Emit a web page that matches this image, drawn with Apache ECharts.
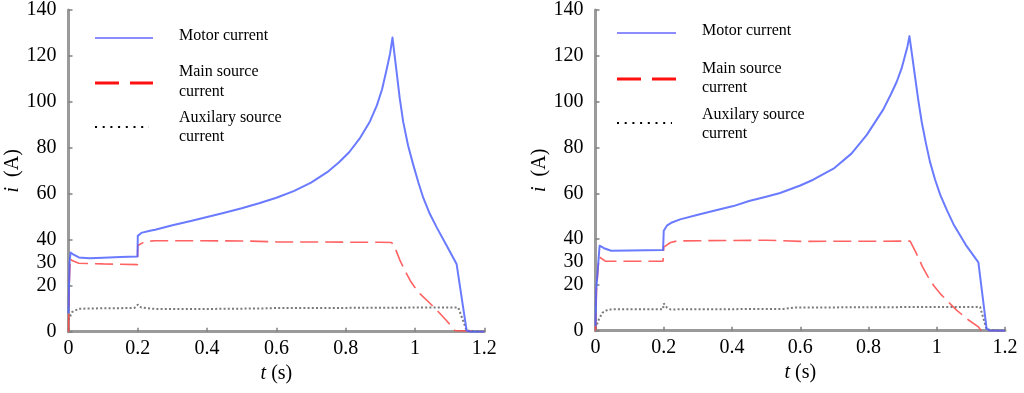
<!DOCTYPE html>
<html>
<head>
<meta charset="utf-8">
<script src="https://cdn.jsdelivr.net/npm/echarts@6/dist/echarts.min.js"></script>
<style>html,body{margin:0;padding:0;background:#fff}#c{width:1024px;height:393px}</style>
</head>
<body>
<div id="c"></div>
<script>
// ---- Data (time in s, current in A) ----
const leftMotorT = [0,0.003,0.006,0.012,0.03,0.06,0.1,0.15,0.199,0.2,0.21,0.235,0.25,0.3,0.35,0.4,0.45,0.5,0.55,0.6,0.65,0.7,0.75,0.78,0.81,0.84,0.87,0.89,0.905,0.918,0.928,0.935,0.947,0.956,0.966,0.98,0.995,1.01,1.024,1.043,1.063,1.09,1.12,1.149,1.16,1.2];
const leftMotorI = [8,30,34.5,33.8,32.3,32.0,32.2,32.5,32.7,41.7,43.0,43.9,44.4,46.3,48.1,49.9,51.8,53.7,55.9,58.3,61.2,64.9,69.8,73.6,78.1,84.0,91.5,98.5,105.5,114.0,121.0,128.0,113.0,101.5,91.3,81.0,72.6,64.8,58.2,51.2,45.3,37.8,29.5,0.5,0,0];
const leftMainT = [0,0.002,0.005,0.01,0.03,0.1,0.199,0.2,0.22,0.25,0.5,0.6,0.9,0.933,0.945,0.957,0.972,0.986,1.0,1.014,1.04,1.063,1.09,1.115,1.12,1.2];
const leftMainI = [0,20,32,31,29.8,29.5,29.2,37.5,39.2,39.6,39.5,39.1,38.9,38.8,35.5,30.9,26.2,22.3,19.2,16.6,12.8,9.4,5.0,0.5,0,0];
const leftAuxT = [0,0.01,0.03,0.1,0.19,0.2,0.21,0.25,0.4,0.55,0.6,0.9,1.0,1.125,1.149,1.2];
const leftAuxI = [5,8.5,10,10.2,10.3,11.8,10.5,9.9,9.9,10.1,10.3,10.4,10.5,10.5,0.5,0];

const rightMotorT = [0,0.002,0.012,0.025,0.046,0.1,0.198,0.2,0.21,0.222,0.248,0.3,0.35,0.404,0.45,0.5,0.541,0.6,0.638,0.7,0.75,0.795,0.843,0.865,0.883,0.897,0.907,0.914,0.92,0.928,0.936,0.946,0.956,0.968,0.98,0.995,1.01,1.03,1.049,1.085,1.122,1.146,1.155,1.2];
const rightMotorI = [2,17.6,37.1,36,34.9,35,35.2,43.6,46,47.1,48.6,50.6,52.5,54.4,56.6,58.5,60.1,63.4,65.9,71,77.3,85.5,96.5,103,108.8,114.5,120,124,128.6,120,111.3,100.5,91.1,82,73.8,66,59.4,52.5,46.5,37.5,29.8,1,0,0];
const rightMainT = [0,0.003,0.01,0.03,0.198,0.2,0.22,0.24,0.5,0.6,0.922,0.931,0.941,0.958,0.975,0.992,1.01,1.035,1.058,1.09,1.122,1.13,1.2];
const rightMainI = [0,18,32.3,30.3,30.3,36.5,38.5,39.2,39.5,39,39.1,36.5,33.5,28,23.4,19.5,16.2,12.4,9,5,1.7,0,0];
const rightAuxT = [0,0.01,0.02,0.037,0.198,0.2,0.21,0.22,0.55,0.58,0.9,1.127,1.146,1.2];
const rightAuxI = [1,5,7.8,9.3,9.4,11.9,10,9.3,9.5,10.1,10.3,10.4,0.5,0];

const seriesNames = ['Motor current', 'Main source\ncurrent', 'Auxilary source\ncurrent'];
const yLabelValues = [0,20,30,40,60,80,100,120,140];
const yTickValues = [0,20,40,60,80,100,120,140];

// ---- Chart ----
const zip = (t, v) => t.map((x, i) => [x, v[i]]);
const FONT = '"Liberation Serif", "Times New Roman", serif';

const grids = [
  {left: 68.5, top: 7.2, width: 415.8, height: 324.5},
  {left: 595.5, top: 7, width: 409.5, height: 323.7}
];

function xAxis(i) {
  return {
    gridIndex: i, type: 'value', min: 0, max: 1.2, interval: 0.2,
    name: '{it|t} (s)', nameLocation: 'middle', nameGap: 31,
    nameTextStyle: {fontFamily: FONT, fontSize: 20, color: '#000', rich: {it: {fontFamily: FONT, fontSize: 20, fontStyle: 'italic', color: '#000'}}},
    axisLine: {show: true, lineStyle: {color: '#9a9a9a', width: 3}},
    axisTick: {show: true, inside: true, length: 4, lineStyle: {color: '#808080', width: 1.5}},
    axisLabel: {fontFamily: FONT, fontSize: 20, color: '#000', margin: 7},
    splitLine: {show: false}
  };
}
function yAxis(i, gap) {
  return {
    gridIndex: i, type: 'value', min: 0, max: 140,
    name: '{it|i}  (A)', nameLocation: 'middle', nameGap: gap, nameRotate: 90,
    nameTextStyle: {fontFamily: FONT, fontSize: 20, color: '#000', rich: {it: {fontFamily: FONT, fontSize: 20, fontStyle: 'italic', color: '#000'}}},
    axisLine: {show: true, lineStyle: {color: '#9a9a9a', width: 3}},
    axisTick: {show: true, inside: true, length: 4, customValues: yTickValues, lineStyle: {color: '#808080', width: 1.5}},
    axisLabel: {fontFamily: FONT, fontSize: 20, color: '#000', margin: 12, customValues: yLabelValues, padding: [8, 0, 0, 0]},
    splitLine: {show: false}
  };
}

function seriesFor(i, motor, main, aux) {
  return [
    {name: seriesNames[2], type: 'line', xAxisIndex: i, yAxisIndex: i, data: aux, symbol: 'none', silent: true,
     lineStyle: {color: '#7a7a7a', width: 2, type: [2, 2.2]}},
    {name: seriesNames[1], type: 'line', xAxisIndex: i, yAxisIndex: i, data: main, symbol: 'none', silent: true,
     lineStyle: {color: 'rgba(255,70,70,0.85)', width: 1.6, type: [18, 7]}},
    {name: seriesNames[0], type: 'line', xAxisIndex: i, yAxisIndex: i, data: motor, symbol: 'none', silent: true,
     lineStyle: {color: 'rgba(80,100,255,0.85)', width: 2, join: 'round'}}
  ];
}

function legendGraphics(x0, x1, tx, ys, ts) {
  const txt = (s, y) => ({type: 'text', left: tx, top: y - 9, style: {text: s, font: '16px ' + FONT, fill: '#000'}});
  return [
    {type: 'line', shape: {x1: x0, y1: ys[0], x2: x1, y2: ys[0]}, style: {stroke: '#1a1aff', lineWidth: 1.2}},
    {type: 'line', shape: {x1: x0, y1: ys[1], x2: x1, y2: ys[1]}, style: {stroke: '#ff1010', lineWidth: 3, lineDash: [24, 11]}},
    {type: 'line', shape: {x1: x0, y1: ys[2], x2: x1 - 4, y2: ys[2]}, style: {stroke: '#000', lineWidth: 2, lineDash: [2, 5.7]}},
    txt('Motor current', ts[0]),
    txt('Main source', ts[1]), txt('current', ts[2]),
    txt('Auxilary source', ts[3]), txt('current', ts[4])
  ];
}

const chart = echarts.init(document.getElementById('c'), null, {renderer: 'canvas'});
chart.setOption({
  animation: false,
  backgroundColor: '#fff',
  grid: grids,
  xAxis: [xAxis(0), xAxis(1)],
  yAxis: [yAxis(0, 42), yAxis(1, 44)],
  series: [
    ...seriesFor(0, zip(leftMotorT, leftMotorI), zip(leftMainT, leftMainI), zip(leftAuxT, leftAuxI)),
    ...seriesFor(1, zip(rightMotorT, rightMotorI), zip(rightMainT, rightMainI), zip(rightAuxT, rightAuxI))
  ],
  graphic: [
    ...legendGraphics(95, 153, 179, [38, 83, 127], [37, 73, 93, 119, 138]),
    ...legendGraphics(617, 676, 702, [33, 79, 123], [32, 70, 89, 116, 135])
  ]
});
</script>
</body>
</html>
